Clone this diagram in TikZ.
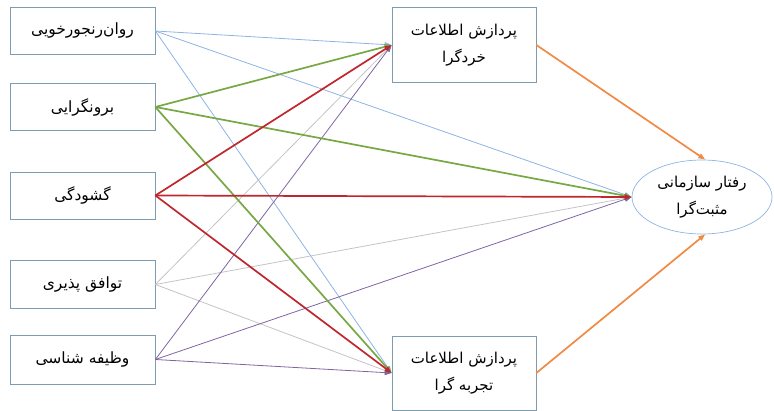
\documentclass[tikz,border=0pt]{standalone}
\usepackage{fontspec}
\TeXXeTstate=1
\newfontfamily\arabicfont[Script=Arabic]{DejaVu Sans}
\usetikzlibrary{arrows.meta,shapes.geometric}
\definecolor{boxline}{HTML}{7F9BB0}
\definecolor{lblue}{HTML}{8DB4E2}
\definecolor{lgreen}{HTML}{77A843}
\definecolor{lred}{HTML}{C0262D}
\definecolor{lgray}{HTML}{C4C4C4}
\definecolor{lpurple}{HTML}{8064A2}
\definecolor{lorange}{HTML}{F08A45}
\definecolor{ellline}{HTML}{8DB4E2}
\tikzset{
  src/.style={draw=boxline, line width=0.7pt, minimum width=145pt, minimum height=47pt, inner sep=0pt, font=\arabicfont\fontsize{15.5}{17}\selectfont},
  mid/.style={draw=boxline, line width=0.7pt, minimum width=144pt, minimum height=75pt, inner sep=0pt, align=center, font=\arabicfont\fontsize{15}{27}\selectfont},
  ell/.style={draw=ellline, line width=0.7pt, ellipse, minimum width=140pt, minimum height=74pt, inner sep=0pt, align=center, font=\arabicfont\fontsize{15}{27}\selectfont},
  conn/.style={-{Triangle[length=7pt,width=5pt]}},
  thin/.style={conn, line width=0.8pt},
  thick/.style={conn, line width=1.7pt}
}
\begin{document}
\begin{tikzpicture}[x=1pt,y=-1pt]
\useasboundingbox (0,0) rectangle (774,411);
\node[src] (b1) at (82.5,31) {\beginR روان‌رنجورخویی\endR};
\node[src] (b2) at (82.5,107) {\beginR برونگرایی\endR};
\node[src] (b3) at (82.5,195.5) {\beginR گشودگی\endR};
\node[src, minimum height=48pt] (b4) at (82.5,284.5) {\beginR توافق پذیری\endR};
\node[src, minimum height=49pt] (b5) at (82.5,359.5) {\beginR وظیفه شناسی\endR};
\node[mid] (top) at (464,45) {\beginR پردازش اطلاعات\endR\\\beginR خردگرا\endR};
\node[mid, minimum height=74pt] (bot) at (464,373) {\beginR پردازش اطلاعات\endR\\\beginR تجربه گرا\endR};
\node[ell] (out) at (702,197) {\beginR رفتار سازمانی\endR\\\beginR مثبت‌گرا\endR};
% blue
\draw[thin, lblue] (b1.east) -- (top.west);
\draw[thin, lblue] (b1.east) -- (out.west);
\draw[thin, lblue] (b1.east) -- (bot.west);
% gray
\draw[thin, lgray] (b4.east) -- (top.west);
\draw[thin, lgray] (b4.east) -- (out.west);
\draw[thin, lgray] (b4.east) -- (bot.west);
% purple
\draw[thin, lpurple] (b5.east) -- (top.west);
\draw[thin, lpurple] (b5.east) -- (out.west);
\draw[thin, lpurple] (b5.east) -- (bot.west);
% green
\draw[thick, lgreen] (b2.east) -- (top.west);
\draw[thick, lgreen] (b2.east) -- (out.west);
\draw[thick, lgreen] (b2.east) -- (bot.west);
% red
\draw[thick, lred] (b3.east) -- (top.west);
\draw[thick, lred] (b3.east) -- (out.west);
\draw[thick, lred] (b3.east) -- (bot.west);
% orange
\draw[thick, lorange] (top.east) -- (out.85);
\draw[thick, lorange] (bot.east) -- (out.-85);
\end{tikzpicture}
\end{document}
